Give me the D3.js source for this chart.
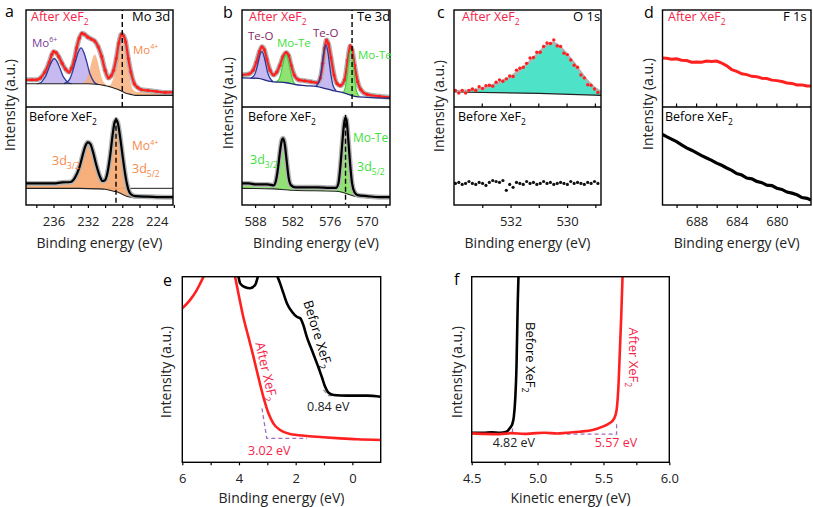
<!DOCTYPE html>
<html><head><meta charset="utf-8">
<script src="https://cdn.jsdelivr.net/npm/d3@7"></script>
<style>body{margin:0;background:#fff}svg{display:block}text{font-family:"Open Sans",sans-serif}</style>
</head><body><svg id="c" width="813" height="507"></svg>
<script>
// ---------------- Panel a : Mo 3d ----------------
const aAfterE = [239.3,238.5,238.0,237.5,237.0,236.5,236.2,236.0,235.7,235.4,235.0,234.6,234.2,233.9,233.6,233.3,233.0,232.7,232.4,232.0,231.6,231.2,230.8,230.4,230.0,229.6,229.3,229.0,228.7,228.4,228.1,227.9,227.6,227.3,227.0,226.6,226.2,225.8,225.0,224.0,223.0,221.9];
const aAfterI = [28,28,28,30,36,46,54,57,56,52,45,39,36,40,48,61,71,76,75,72,70,68,62,52,38,30,32,38,50,66,75,74,67,50,36,24,20,18,17,16,15,15];
const aBgTopE = [239.3,233,232,231,230,229.5,229,228.5,228,227.5,227,226.5,221.9];
const aBgTopI = [24,24,24,23.5,22,21,19.5,18,16,14,13,12,12];
const aMo6aE = [237.9,237.5,237.2,236.9,236.55,236.2,235.9,235.6,235.25,234.9,234.6,234.3,233.9];
const aMo6aI = [24,25,28,32,40,47,50,47,40,32,28,25,24];
const aMo6bE = [234.8,234.4,234.1,233.8,233.45,233.1,232.8,232.5,232.15,231.8,231.5,231.2,230.8];
const aMo6bI = [24,26,29,36,47,57,61,57,47,35,29,25,23];
const aMo4aE = [232.7,232.4,232.2,231.95,231.7,231.45,231.2,230.95,230.7,230.45,230.2,230.0,229.7];
const aMo4aI = [24,26,28,34,42,50,54,50,41,32,26,24,21];
const aMo4bE = [229.65,229.375,229.1,228.825,228.55,228.275,228.0,227.725,227.45,227.175,226.9,226.625,226.35,225.5,224.0,221.9];
const aMo4bI = [22,23,28,38,53,68,74,66,49,32,21,17,15.5,15.5,15,15];
const aBeforeE = [239.3,238.0,237.0,236.0,235.0,234.0,233.5,233.0,232.6,232.3,232.0,231.7,231.4,231.0,230.6,230.3,230.0,229.7,229.4,229.1,228.9,228.7,228.5,228.2,227.9,227.6,227.3,227.0,226.5,225.0,223.0,221.9];
const aBeforeI = [22,22,22,22,23,23.5,28,38,51,60,64,62,54,40,29,24.5,25.5,34,51,73,84,87,83,66,46,28,16,11,9,8.5,8,8];
const aBgBotE = [239.3,233,231,230,229,228.5,228,227.5,227,226.5,221.9];
const aBgBotI = [17,17,16.5,16,14,13,11,9,8,7.5,7.5];
const aRefLine = 17;
const aDashAfter = 228.0, aDashBefore = 228.73;
const aTicks = [238,236,234,232,230,228,226,224,222], aLabels = [236,232,228,224];

// ---------------- Panel b : Te 3d ----------------
const bAfterE = [590.2,589.0,588.3,587.8,587.3,586.9,586.5,586.1,585.6,585.0,584.5,584.0,583.5,583.0,582.6,582.2,581.7,581.0,580.0,579.0,578.0,577.5,577.1,576.8,576.5,576.2,575.8,575.3,574.8,574.3,573.6,573.1,572.7,572.4,572.0,571.5,571.0,570.0,568.0,566.2];
const bAfterI = [33,34,38,46,57,62,59,49,38,33,36,43,52,56,53,43,33,28,27,26,25,30,45,61,69,65,51,33,24,22,28,48,63,59,43,26,18,13,11,10];
const bBgTopE = [590.2,587.5,586,585,583,581.5,580,578,577,575.5,574,573,572,570,566.2];
const bBgTopI = [30,29.5,27,26,25,23,22,21,19.5,17,15,13,11,10,9];
const bTeO1E = [588.7,588.4,588.1,587.8,587.5,587.2,586.9,586.6,586.3,586.0,585.7,585.4,585.1];
const bTeO1I = [30,31,33,38,46,54,57,53,45,36,31,28,26];
const bMoTe1E = [584.65,584.375,584.1,583.825,583.55,583.275,583.0,582.725,582.45,582.175,581.9,581.625,581.35];
const bMoTe1I = [26,27,29,35,43,51,54,50,42,33,27,24,23];
const bTeO2E = [578.25,577.975,577.7,577.425,577.15,576.875,576.6,576.325,576.05,575.775,575.5,575.225,574.95];
const bTeO2I = [21,23,26,34,47,59,64,58,45,32,23,19,17];
const bMoTe2E = [573.95,573.725,573.5,573.275,573.05,572.825,572.6,572.375,572.15,571.925,571.7,571.475,571.25];
const bMoTe2I = [15,16,20,28,41,53,59,53,40,26,17,13,11];
const bBeforeE = [590.2,589,588,587,586,585,584.6,584.3,584.0,583.7,583.5,583.2,582.9,582.6,582.2,581.5,580,578,576,575,574.6,574.3,574.0,573.7,573.5,573.3,573.0,572.7,572.4,572.0,571.5,570,568,566.2];
const bBeforeI = [22,22,21,21,21,20,26,38,54,66,68,61,44,28,20,18,18,18,17.5,17.5,22,38,61,82,89,87,66,41,22,13,10,9,8,8];
const bBgBotE = [590.2,585,583,582,575,574,573,572,570,566.2];
const bBgBotI = [17,16.5,15.5,15,14,13,11,9,7.5,7.5];
const bDashAfter = 572.4, bDashBefore = 573.45;
const bTicks = [588,585,582,579,576,573,570,567], bLabels = [588,582,576,570];

// ---------------- Panel c : O 1s ----------------
const cDotE = [533.95,533.83,533.71,533.59,533.47,533.35,533.23,533.11,532.99,532.87,532.75,532.63,532.51,532.39,532.27,532.15,532.03,531.91,531.79,531.67,531.55,531.43,531.31,531.19,531.07,530.95,530.83,530.71,530.59,530.47,530.35,530.23,530.11,529.99,529.87,529.75,529.63,529.51,529.39,529.27,529.15,529.03,528.91];
const cAfterDots = [17,14.5,17,14.5,17,18.5,17,21,19,22,22.5,21.5,25.5,28,26.5,29,32,31.5,38,40,41,45,50.5,51,56.5,56.5,62.5,66,65.5,69,63,62.5,55.5,54,48.5,43,41,33,30,23,22.5,18.5,15];
const cBeforeDots = [22,23,21,22,24,22,21,23,22,20,23,25,24,23,25,15,21,18,23,22,21,24,22,23,21,22,24,22,23,21,22,23,22,21,24,22,23,22,21,23,22,24,22];
const cEnvE = [534.05,533.5,533.0,532.5,532.0,531.5,531.0,530.75,530.5,530.25,530.0,529.75,529.5,529.25,529.0,528.75];
const cEnvI = [16,17,19,24,31,42,56,63,66,62,54,45,35,26,19,15];
const cBgE = [534.05,531,528.75];
const cBgI = [15.5,14,12];
const cTicks = [533,532,531,530,529], cLabels = [532,530];

// ---------------- Panel d : F 1s ----------------
const dE = [691.4,691.0,690.5,690.0,689.5,689.0,688.5,688.0,687.5,687.0,686.5,686.0,685.5,685.0,684.5,684.0,683.5,683.0,682.5,682.0,681.5,681.0,680.5,680.0,679.5,679.0,678.5,678.0,677.5,677.0,676.6];
const dAfterI = [50.5,50.2,49.2,49.6,48.3,47.9,46.2,46.4,46.1,47.3,47.0,47.4,45.3,42.4,38.6,36.8,34.2,33.4,31.6,31.3,29.6,29.3,27.7,27.2,26.3,24.8,24.3,22.7,22.8,21.7,21.6];
const dBeforeI = [72,69.8,67.2,64.6,61.4,58.3,55.9,53.1,50.4,47.9,45.6,42.7,40.5,37.8,35.4,32.1,30.6,27.5,26.7,24.1,22.8,20.2,19.8,17.1,15.9,13.2,12.1,10.4,7.6,6.8,5];
const dTicks = [690,688,686,684,682,680,678], dLabels = [688,684,680];

// ---------------- Panel e : valence band ----------------
const eAfterE = [6.0,5.73,5.49,5.31,5.25,5.0,4.6,4.3,4.14,4.02,3.85,3.67,3.49,3.32,3.14,2.96,2.79,2.55,2.20,1.61,1.02,0.43,-0.16,-1.0];
const eAfterI = [83,87.4,92.8,98.2,100,110,114,108,100,91,78.4,67.7,56.9,46.1,35.3,26.4,21,17.4,15.2,14.2,13.5,12.9,12.4,12];
const eBeforeE = [4.3,4.02,3.96,3.78,3.61,3.43,3.35,3.2,2.8,2.64,2.55,2.43,2.31,2.13,1.96,1.84,1.73,1.61,1.43,1.25,1.08,0.96,0.84,0.66,0.19,-0.52,-1.0];
const eBeforeI = [112,100,96.4,94.3,93.8,95.5,99.1,108,108,100,96.4,91,85.7,81.1,78.4,77.6,74,67.7,60.5,53.3,46.1,40.7,37.5,36.3,35.9,35.9,35.3];
const eAfterDashE = [3.19,3.02,1.6], eAfterDashI = [29.1,12.9,12.9];
const eBeforeDashE = [1.02,0.84,0.5], eBeforeDashI = [39,35.9,35.9];
const eTicks = [6,5,4,3,2,1,0], eLabels = [6,4,2,0];

// ---------------- Panel f : secondary electron cutoff ----------------
const fBeforeE = [4.5,4.588,4.65,4.714,4.764,4.789,4.81,4.82,4.83,4.84,4.845,4.85,4.855,4.86];
const fBeforeI = [15.9,15.9,16.2,15.9,16.5,18.3,21,24.6,33.6,51.5,69.5,87.4,100,110];
const fAfterE = [4.5,4.6,4.714,4.8,4.9,4.965,5.05,5.15,5.218,5.318,5.418,5.494,5.545,5.582,5.6,5.615,5.625,5.635,5.645,5.65];
const fAfterI = [15.6,15.3,15.2,15.7,15.3,15.6,15.9,15.5,15.9,16.5,17.4,19.2,21,23.7,28.2,42.6,60.5,78.4,100,110];
const fBeforeDashE = [4.81,4.81], fBeforeDashI = [22,15.9];
const fAfterDashE = [5.22,5.6,5.6], fAfterDashI = [15.2,15.2,22];
const fTicks = [4.5,4.75,5,5.25,5.5,5.75,6], fLabels = [4.5,5,5.5,6];

// ================= drawing =================
const svg = d3.select('#c');
const RED='#ff2020', RTXT='#f42448', GRAY='#b2b2b2', PURF='#bcaeee', PURL='#2c3a9e',
      ORF='#f7ab74', ORT='#f58a4c', GRF='#84e064', GRL='#3fcf3f', GRT='#3ddf3a', CYF='#45e2c6',
      PUTXT='#7a3d9e', TEO='#80285f', DASHP='#a06cc0';
let clipN = 0;
function sub(x0,x1,yt,yb,dom){
  const x=d3.scaleLinear().domain(dom).range([x0,x1]);
  const y=d3.scaleLinear().domain([0,100]).range([yb,yt]);
  const id='clip'+(clipN++);
  svg.append('clipPath').attr('id',id).append('rect').attr('x',x0).attr('y',yt).attr('width',x1-x0).attr('height',yb-yt);
  const g=svg.append('g').attr('clip-path',`url(#${id})`);
  return {x,y,g,x0,x1,yt,yb};
}
const pts=(E,I)=>E.map((e,i)=>[e,I[i]]);
function path(s,data,attrs,curve){
  const p=s.g.append('path').attr('d',d3.line().x(d=>s.x(d[0])).y(d=>s.y(d[1])).curve(curve||d3.curveMonotoneX)(data)).attr('fill','none');
  Object.entries(attrs).forEach(([k,v])=>p.attr(k,v));
  return p;
}
function areaBg(s,data,bgE,bgI,fill,op){
  const bg=d3.scaleLinear().domain(bgE).range(bgI).clamp(true);
  s.g.append('path').attr('d',d3.area().x(d=>s.x(d[0])).y0(d=>s.y(bg(d[0]))).y1(d=>s.y(d[1])).curve(d3.curveMonotoneX)(data))
    .attr('fill',fill).attr('fill-opacity',op==null?0.9:op);
}
function dots(s,data,fill,r){
  s.g.selectAll(null).data(data).enter().append('circle').attr('cx',d=>s.x(d[0])).attr('cy',d=>s.y(d[1])).attr('r',r||1.5).attr('fill',fill);
}
function vdash(s,E,v0,v1,col){
  s.g.append('line').attr('x1',s.x(E)).attr('x2',s.x(E)).attr('y1',s.y(v0)).attr('y2',s.y(v1))
   .attr('stroke',col||'#000').attr('stroke-width',1.4).attr('stroke-dasharray','5,3');
}
function frame(x0,x1,yt,yb){
  svg.append('rect').attr('x',x0).attr('y',yt).attr('width',x1-x0).attr('height',yb-yt)
    .attr('fill','none').attr('stroke','#000').attr('stroke-width',1.4);
}
function hline(x0,x1,y){ svg.append('line').attr('x1',x0).attr('x2',x1).attr('y1',y).attr('y2',y).attr('stroke','#000').attr('stroke-width',1.4); }
function xAxis(s,ticks,labels,fmt,pad){
  const ax=d3.axisBottom(s.x).tickValues(ticks).tickSize(3).tickPadding(pad)
    .tickFormat(d=>labels.some(l=>Math.abs(l-d)<1e-9)?(fmt?fmt(d):d):'');
  const g=svg.append('g').attr('transform',`translate(0,${s.yb})`).call(ax);
  g.select('.domain').remove();
  g.selectAll('line').attr('stroke','#000').attr('stroke-width',1.2);
  g.selectAll('text').attr('font-size',13).attr('font-family','"Open Sans",sans-serif').attr('fill','#222');
}
function upTicks(s,ticks){
  svg.append('g').selectAll(null).data(ticks).enter().append('line')
   .attr('x1',d=>s.x(d)).attr('x2',d=>s.x(d)).attr('y1',s.yb).attr('y2',s.yb-3.5).attr('stroke','#000').attr('stroke-width',1.2);
}
function txt(x,y,parts,o){
  o=Object.assign({size:12,fill:'#000',anchor:'start',rotate:0},o||{});
  const t=svg.append('text').attr('x',x).attr('y',y).attr('font-size',o.size).attr('fill',o.fill).attr('text-anchor',o.anchor);
  if(o.rotate) t.attr('transform',`rotate(${o.rotate},${x},${y})`);
  parts.forEach(p=>{
    if(typeof p==='string') t.append('tspan').text(p);
    else if(p.sub!=null) t.append('tspan').attr('font-size',o.size*0.68).attr('dy',o.size*0.3).text(p.sub);
    else if(p.sup!=null) t.append('tspan').attr('font-size',o.size*0.62).attr('dy',-o.size*0.42).text(p.sup);
  });
  return t;
}
const xef=(pre)=>[pre+' XeF',{sub:'2'}];
function yTitle(x,y){ txt(x,y,['Intensity (a.u.)'],{size:14,anchor:'middle',rotate:-90,fill:'#222'}).attr('dominant-baseline','central'); }
function xTitle(x,y,s){ txt(x,y,[s],{size:14,anchor:'middle',fill:'#222'}); }
function letter(x,y,l){ svg.append('text').attr('x',x).attr('y',y).attr('font-size',16).attr('font-family','"Liberation Sans",Arial,sans-serif').attr('fill','#000').text(l); }

// ---- panel a ----
{
  const dom=[239.2,222.1];
  const T=sub(26,173,10,107,dom), B=sub(26,173,107,205,dom);
  areaBg(T,pts(aMo6aE,aMo6aI),aBgTopE,aBgTopI,PURF,0.85);
  areaBg(T,pts(aMo6bE,aMo6bI),aBgTopE,aBgTopI,PURF,0.85);
  areaBg(T,pts(aMo4aE,aMo4aI),aBgTopE,aBgTopI,ORF,0.8);
  areaBg(T,pts(aMo4bE,aMo4bI),aBgTopE,aBgTopI,ORF,0.8);
  path(T,pts(aAfterE,aAfterI),{stroke:GRAY,'stroke-width':5});
  path(T,pts(aAfterE,aAfterI),{stroke:RED,'stroke-width':2.2});
  dots(T,pts(aAfterE,aAfterI),RED,1.6);
  path(T,pts(aMo6aE,aMo6aI),{stroke:PURL,'stroke-width':1.3});
  path(T,pts(aMo6bE,aMo6bI),{stroke:PURL,'stroke-width':1.3});
  path(T,pts(aBgTopE,aBgTopI),{stroke:'#222','stroke-width':1.1});
  vdash(T,aDashAfter,0,100);
  B.g.append('line').attr('x1',B.x0).attr('x2',B.x1).attr('y1',B.y(aRefLine)).attr('y2',B.y(aRefLine)).attr('stroke','#222').attr('stroke-width',1);
  areaBg(B,pts(aBeforeE,aBeforeI),aBgBotE,aBgBotI,ORF,0.95);
  path(B,pts(aBgBotE,aBgBotI),{stroke:'#222','stroke-width':1.1});
  path(B,pts(aBeforeE,aBeforeI),{stroke:GRAY,'stroke-width':5});
  path(B,pts(aBeforeE,aBeforeI),{stroke:'#000','stroke-width':2.2});
  vdash(B,aDashBefore,89,1);
  frame(26,173,10,205); hline(26,173,107);
  xAxis(B,aTicks,aLabels,null,9);
  txt(31,21,xef('After'),{fill:RTXT,size:12.5});
  txt(132,21,['Mo 3d'],{size:13});
  txt(32,47,['Mo',{sup:'6+'}],{fill:PUTXT,size:11.5});
  txt(133,54,['Mo',{sup:'4+'}],{fill:ORT,size:11.5});
  txt(29,121,xef('Before'),{size:12.5});
  txt(132,150,['Mo',{sup:'4+'}],{fill:ORT,size:12});
  txt(52,165,['3d',{sub:'3/2'}],{fill:ORT,size:12.5});
  txt(132,173,['3d',{sub:'5/2'}],{fill:ORT,size:12.5});
  yTitle(9,105); xTitle(99.5,248,'Binding energy (eV)'); letter(5,17,'a');
}
// ---- panel b ----
{
  const dom=[590.1,566.3];
  const T=sub(242,390,10,107,dom), B=sub(242,390,107,205,dom);
  areaBg(T,pts(bTeO1E,bTeO1I),bBgTopE,bBgTopI,PURF,0.85);
  areaBg(T,pts(bMoTe1E,bMoTe1I),bBgTopE,bBgTopI,GRF,0.9);
  areaBg(T,pts(bTeO2E,bTeO2I),bBgTopE,bBgTopI,PURF,0.85);
  areaBg(T,pts(bMoTe2E,bMoTe2I),bBgTopE,bBgTopI,GRF,0.9);
  path(T,pts(bAfterE,bAfterI),{stroke:GRAY,'stroke-width':5});
  path(T,pts(bAfterE,bAfterI),{stroke:RED,'stroke-width':2.2});
  dots(T,pts(bAfterE,bAfterI),RED,1.6);
  path(T,pts(bTeO1E,bTeO1I),{stroke:PURL,'stroke-width':1.3});
  path(T,pts(bTeO2E,bTeO2I),{stroke:PURL,'stroke-width':1.3});
  path(T,pts(bMoTe1E,bMoTe1I),{stroke:GRL,'stroke-width':1.2});
  path(T,pts(bMoTe2E,bMoTe2I),{stroke:GRL,'stroke-width':1.2});
  path(T,pts(bBgTopE,bBgTopI),{stroke:'#1f2a80','stroke-width':1.3});
  vdash(T,bDashAfter,0,100);
  areaBg(B,pts(bBeforeE,bBeforeI),bBgBotE,bBgBotI,GRF,0.9);
  path(B,pts(bBgBotE,bBgBotI),{stroke:'#222','stroke-width':1.1});
  path(B,pts(bBeforeE,bBeforeI),{stroke:GRAY,'stroke-width':5});
  path(B,pts(bBeforeE,bBeforeI),{stroke:'#000','stroke-width':2.2});
  vdash(B,bDashBefore,92,1);
  frame(242,390,10,205); hline(242,390,107);
  xAxis(B,bTicks,bLabels,null,9);
  txt(249,21,xef('After'),{fill:RTXT,size:12.5});
  txt(357,21,['Te 3d'],{size:13});
  txt(248,40,['Te-O'],{fill:TEO,size:11.5});
  txt(313,37,['Te-O'],{fill:TEO,size:11.5});
  txt(277,47,['Mo-Te'],{fill:GRT,size:11.5});
  txt(358,59,['Mo-Te'],{fill:GRT,size:11.5});
  txt(248,121,xef('Before'),{size:12.5});
  txt(353,142,['Mo-Te'],{fill:GRT,size:12});
  txt(250,164,['3d',{sub:'3/2'}],{fill:GRT,size:12.5});
  txt(357,171,['3d',{sub:'5/2'}],{fill:GRT,size:12.5});
  yTitle(227,103); xTitle(316,248,'Binding energy (eV)'); letter(223,17.5,'b');
}
// ---- panel c ----
{
  const dom=[534.0,528.8];
  const T=sub(454,601,10,107,dom), B=sub(454,601,107,205,dom);
  areaBg(T,pts(cEnvE,cEnvI),cBgE,cBgI,CYF,0.95);
  path(T,pts(cBgE,cBgI),{stroke:'#222','stroke-width':1.2});
  path(T,pts(cEnvE,cEnvI),{stroke:GRAY,'stroke-width':2.5});
  dots(T,pts(cDotE,cAfterDots),RED,1.7);
  dots(B,pts(cDotE,cBeforeDots),'#111',1.6);
  frame(454,601,10,205); hline(454,601,107);
  upTicks(T,cTicks);
  xAxis(B,cTicks,cLabels,null,9);
  txt(462,21,xef('After'),{fill:RTXT,size:12.5});
  txt(573,21,['O 1s'],{size:13});
  txt(458,121,xef('Before'),{size:12.5});
  yTitle(437.5,106); xTitle(527.5,248,'Binding energy (eV)'); letter(437,17.5,'c');
}
// ---- panel d ----
{
  const dom=[691.4,676.6];
  const T=sub(662.5,811,10,107,dom), B=sub(662.5,811,107,205,dom);
  path(T,pts(dE,dAfterI),{stroke:RED,'stroke-width':3},d3.curveLinear);
  path(B,pts(dE,dBeforeI),{stroke:'#000','stroke-width':3.2},d3.curveLinear);
  frame(662.5,811,10,205); hline(662.5,811,107);
  upTicks(T,dTicks);
  xAxis(B,dTicks,dLabels,null,9);
  txt(668,21,xef('After'),{fill:RTXT,size:12.5});
  txt(783,21,['F 1s'],{size:13});
  txt(665,121,xef('Before'),{size:12.5});
  yTitle(646.7,104); xTitle(736.7,248,'Binding energy (eV)'); letter(644,17.5,'d');
}
// ---- panel e ----
{
  const S=sub(182.3,380.7,276.7,462.3,[6,-1]);
  path(S,pts(eAfterDashE,eAfterDashI),{stroke:DASHP,'stroke-width':1.3,'stroke-dasharray':'4,3'},d3.curveLinear);
  path(S,pts(eBeforeDashE,eBeforeDashI),{stroke:'#8a8aa8','stroke-width':1.3,'stroke-dasharray':'4,3'},d3.curveLinear);
  path(S,pts(eAfterE,eAfterI),{stroke:RED,'stroke-width':2.6});
  path(S,pts(eBeforeE,eBeforeI),{stroke:'#000','stroke-width':2.6});
  frame(182.3,380.7,276.7,462.3);
  xAxis(S,eTicks,eLabels,null,8);
  txt(S.x(3.19),S.y(50.6)+4,xef('After'),{fill:RTXT,size:13,anchor:'middle',rotate:77});
  txt(S.x(1.37),S.y(70.4)+4,xef('Before'),{size:13,anchor:'middle',rotate:73});
  txt(S.x(0.85),S.y(30.3)+4.5,['0.84 eV'],{size:12.5,anchor:'middle',fill:'#222'});
  txt(S.x(2.93),S.y(6.6)+4.5,['3.02 eV'],{size:12.5,anchor:'middle',fill:RTXT});
  yTitle(165,372); xTitle(281.5,503,'Binding energy (eV)'); letter(163,286,'e');
}
// ---- panel f ----
{
  const S=sub(471.7,669.3,276.7,462.3,[4.5,6.0]);
  path(S,pts(fBeforeDashE,fBeforeDashI),{stroke:DASHP,'stroke-width':1.3,'stroke-dasharray':'4,3'},d3.curveLinear);
  path(S,pts(fAfterDashE,fAfterDashI),{stroke:DASHP,'stroke-width':1.3,'stroke-dasharray':'4,3'},d3.curveLinear);
  path(S,pts(fBeforeE,fBeforeI),{stroke:'#000','stroke-width':2.6});
  path(S,pts(fAfterE,fAfterI),{stroke:RED,'stroke-width':2.6});
  frame(471.7,669.3,276.7,462.3);
  xAxis(S,fTicks,fLabels,d3.format('.1f'),8);
  txt(S.x(4.913),S.y(58.7)+4,xef('Before'),{size:13,anchor:'middle',rotate:90});
  txt(S.x(5.696),S.y(58.7)+4,xef('After'),{fill:RTXT,size:13,anchor:'middle',rotate:90});
  txt(S.x(4.82),S.y(10.4)+4.5,['4.82 eV'],{size:12.5,anchor:'middle',fill:'#222'});
  txt(S.x(5.595),S.y(10.4)+4.5,['5.57 eV'],{size:12.5,anchor:'middle',fill:RTXT});
  yTitle(456,372); xTitle(570.5,503,'Kinetic energy (eV)'); letter(454,285,'f');
}
</script></body></html>
